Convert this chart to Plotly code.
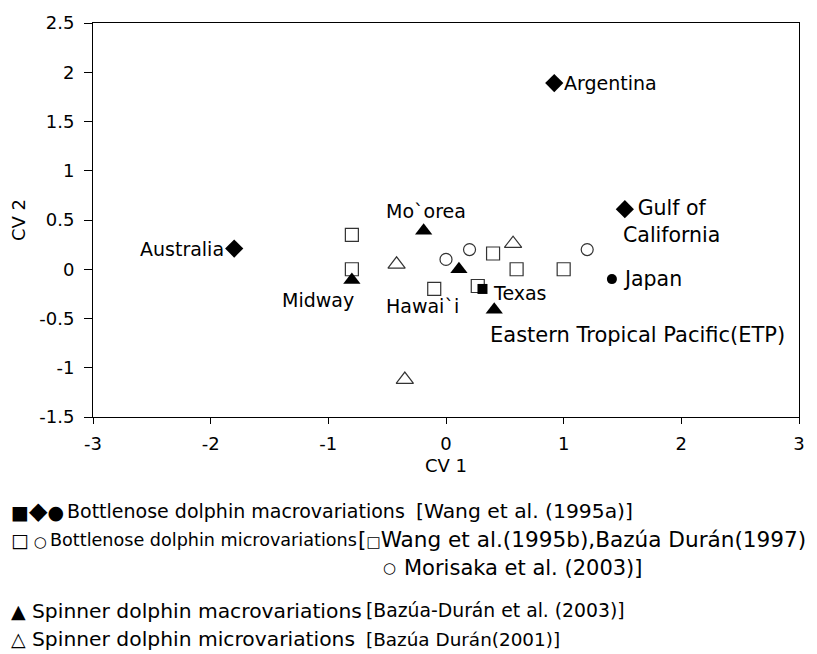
import plotly.graph_objects as go

# ---- data ----
macro_bottlenose_names = ["Argentina", "Gulf of California", "Australia"]
macro_bottlenose_x = [0.92, 1.52, -1.8]
macro_bottlenose_y = [1.89, 0.61, 0.21]
texas_x = [0.31]
texas_y = [-0.2]
japan_x = [1.41]
japan_y = [-0.1]

micro_square_x = [-0.8, -0.8, -0.1, 0.4, 0.6, 1.0, 0.27]
micro_square_y = [0.35, 0.0, -0.2, 0.16, 0.0, 0.0, -0.17]
micro_circle_x = [0.0, 0.2, 1.2]
micro_circle_y = [0.1, 0.2, 0.2]

spinner_macro_names = ["Mo`orea", "Midway", "Hawai`i", "ETP"]
spinner_macro_x = [-0.19, -0.8, 0.11, 0.41]
spinner_macro_y = [0.39, -0.11, 0.0, -0.41]

spinner_micro_x = [-0.42, 0.57, -0.35]
spinner_micro_y = [0.05, 0.26, -1.12]

x_ticks = [-3, -2, -1, 0, 1, 2, 3]
y_ticks = [-1.5, -1, -0.5, 0, 0.5, 1, 1.5, 2, 2.5]

FONT = "DejaVu Sans, Liberation Sans, Arial"
GRAY = "#333333"

fig = go.Figure()

def add(x, y, symbol, size, color, lw=1):
    fig.add_trace(go.Scatter(
        x=x, y=y, mode="markers",
        marker=dict(symbol=symbol, size=size, color=color,
                    line=dict(color=color, width=lw)),
        showlegend=False, hoverinfo="x+y"))

add(micro_square_x, micro_square_y, "square-open", 13, GRAY, 1.2)
add(micro_circle_x, micro_circle_y, "circle-open", 12, GRAY, 1.2)
add(spinner_micro_x, spinner_micro_y, "triangle-up-open", 15, GRAY, 1.2)
add(macro_bottlenose_x, macro_bottlenose_y, "diamond", 14, "black", 0)
add(texas_x, texas_y, "square", 10, "black", 0)
add(japan_x, japan_y, "circle", 10, "black", 0)
add(spinner_macro_x, spinner_macro_y, "triangle-up", 15, "black", 0)

# point labels
labels = [
    (0.92, 1.89, "Argentina", "left", 8, 0, 19),
    (1.52, 0.61, "Gulf of<br>California", "center", 47, -12, 20.5),
    (-1.8, 0.21, "Australia", "right", -8, 0, 19),
    (-0.19, 0.39, "Mo`orea", "center", 2, 20, 19),
    (-0.8, -0.11, "Midway", "center", -34, -20, 19),
    (0.11, 0.0, "Hawai`i", "center", -36, -37, 19),
    (0.31, -0.2, "Texas", "left", 9, -4, 19),
    (1.41, -0.1, "Japan", "left", 9, 0, 20.5),
    (0.41, -0.41, "Eastern Tropical Pacific(ETP)", "left", -6, -25, 21),
]
for x, y, t, xa, dx, dy, fs in labels:
    fig.add_annotation(x=x, y=y, text=t, showarrow=False, xanchor=xa, yanchor="middle",
                       xshift=dx, yshift=dy, align="center",
                       font=dict(family=FONT, size=fs, color="black"))

# legend text (pixel positions)
L, R, T, B = 93, 804, 16, 417
def px(x):
    return (x - L) / (R - L)
def py(y):
    return (B - y) / (B - T)

legend_items = [
    # x, y, text, size, anchor
    (8, 513, "■<span style='font-size:24px'>◆</span>●", 19, "left"),
    (65, 513, "Bottlenose dolphin macrovariations", 19, "left"),
    (416, 513, "[Wang et al. (1995a)]", 20.3, "left"),
    (8, 542, "□<span style='font-size:15px'> ○</span>", 19, "left"),
    (48, 542, "Bottlenose dolphin microvariations", 17.6, "left"),
    (358, 542, "[<span style='font-size:15px'>□</span>Wang et al.(1995b),Bazúa Durán(1997)", 21.6, "left"),
    (392, 571, "○", 15, "center"),
    (404, 571, "Morisaka et al. (2003)]", 21, "left"),
    (17.5, 614, "▲", 19, "center"),
    (30, 614, "Spinner dolphin macrovariations", 20.3, "left"),
    (366, 614, "[Bazúa-Durán et al. (2003)]", 18.8, "left"),
    (17.5, 643, "△", 19, "center"),
    (30, 643, "Spinner dolphin microvariations", 20.3, "left"),
    (366, 643, "[Bazúa Durán(2001)]", 18.4, "left"),
]
for x, y, t, fs, xa in legend_items:
    fig.add_annotation(x=px(x), y=py(y), xref="paper", yref="paper", text=t,
                       showarrow=False, xanchor=xa, yanchor="middle",
                       font=dict(family=FONT, size=fs, color="black"))

fig.update_xaxes(range=[-3, 3], tickvals=x_ticks, ticktext=[str(v) for v in x_ticks],
                 showgrid=False, zeroline=False, showline=True, linecolor="black",
                 linewidth=1, mirror=True, ticks="outside", ticklen=6, tickcolor="black",
                 ticklabelstandoff=4,
                 tickfont=dict(family=FONT, size=18, color="black"),
                 title=dict(text="CV 1", font=dict(family=FONT, size=18, color="black"), standoff=6))
fig.update_yaxes(range=[-1.5, 2.5], tickvals=y_ticks, ticktext=[str(v) for v in y_ticks],
                 showgrid=False, zeroline=False, showline=True, linecolor="black",
                 linewidth=1, mirror=True, ticks="outside", ticklen=8, tickcolor="black",
                 ticklabelstandoff=6,
                 tickfont=dict(family=FONT, size=18, color="black"),
                 title=dict(text="CV 2", font=dict(family=FONT, size=18, color="black"), standoff=8))

fig.update_layout(width=817, height=654, margin=dict(l=L, r=817 - R, t=T, b=654 - B),
                  plot_bgcolor="white", paper_bgcolor="white", showlegend=False)

fig.write_html("out.html", config={"displayModeBar": False},
               post_script="document.body.style.margin='0px';")
